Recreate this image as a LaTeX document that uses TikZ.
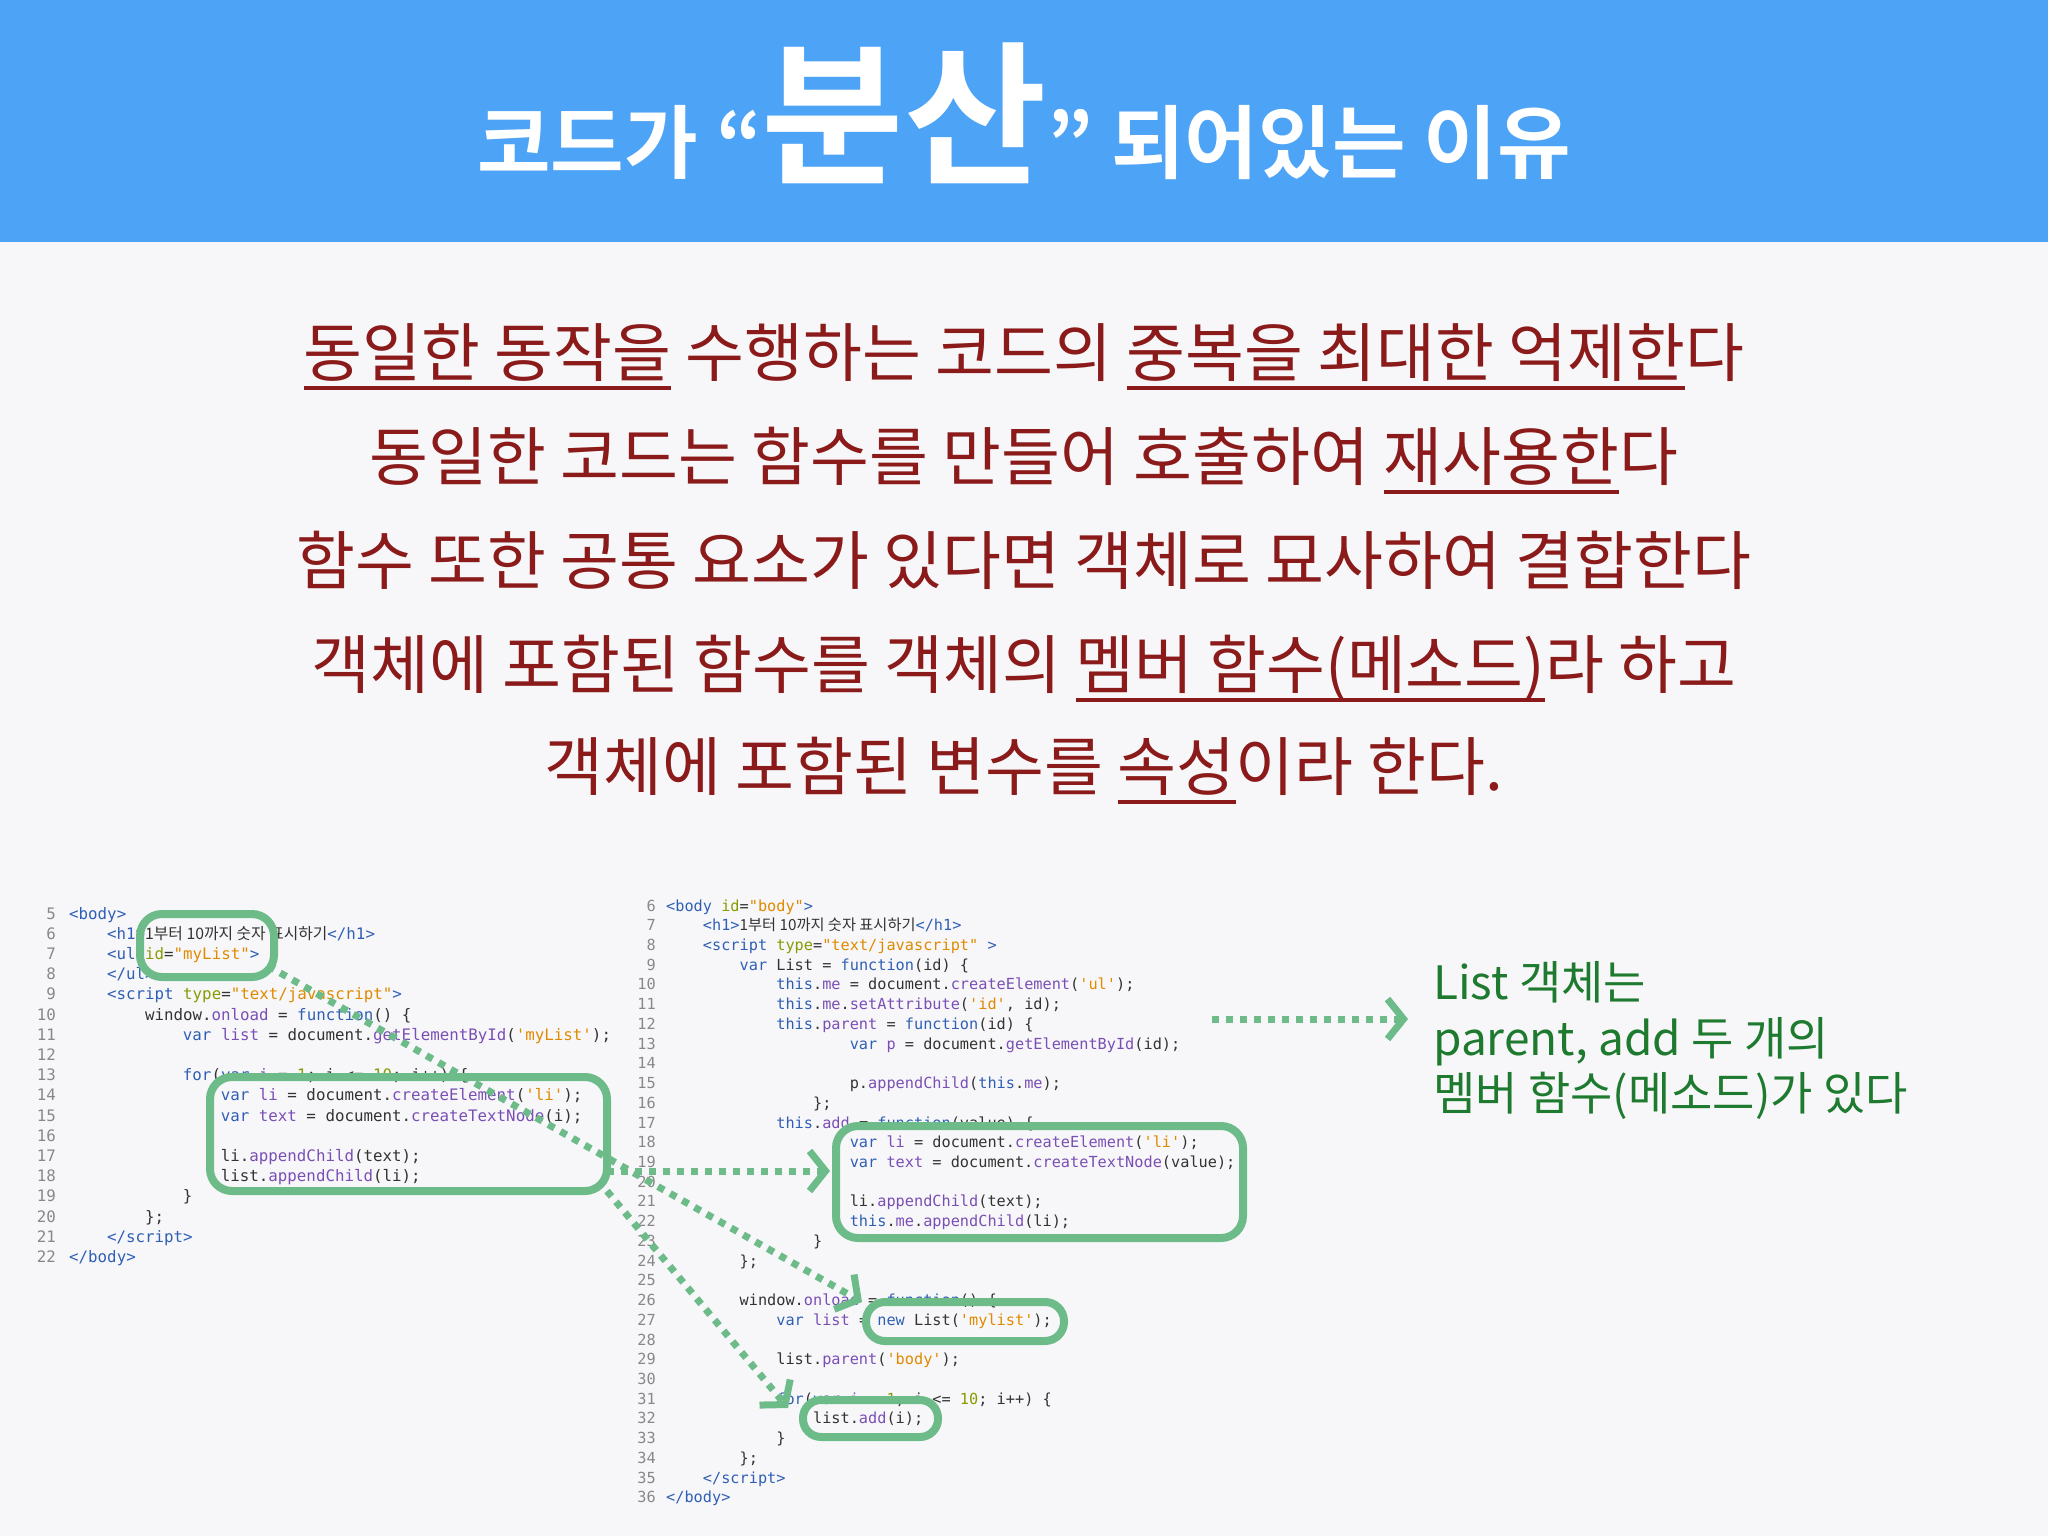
\documentclass[tikz,border=0pt]{standalone}
\usepackage{fontspec}
\usetikzlibrary{arrows.meta}
\setmainfont{Noto Sans CJK KR}
\newfontfamily\krb{Noto Sans CJK KR Bold}
\newfontfamily\kr{Noto Sans CJK KR}
\setmonofont{DejaVu Sans Mono}
\definecolor{hdr}{HTML}{4DA3F5}
\definecolor{bg}{HTML}{F7F7F9}
\definecolor{dred}{HTML}{8B1A1A}
\definecolor{gbox}{HTML}{6EBB8A}
\definecolor{gtxt}{HTML}{1E7A2E}
\definecolor{ckw}{HTML}{2F5FB5}
\definecolor{cfn}{HTML}{7A4FB5}
\definecolor{cst}{HTML}{E08A00}
\definecolor{cat}{HTML}{8A9A00}
\definecolor{ctx}{HTML}{333333}
\definecolor{cnum}{HTML}{888888}
\newcommand\kw[1]{{\color{ckw}#1}}
\newcommand\fn[1]{{\color{cfn}#1}}
\newcommand\st[1]{{\color{cst}#1}}
\newcommand\at[1]{{\color{cat}#1}}
\newcommand\hk[1]{{\kr #1}}
\newcommand\ulx[1]{\setbox0\hbox{#1}\rlap{\rule[-0.22em]{\wd0}{0.065em}}\box0\relax}
\tikzset{
  redline/.style={text=dred,font=\kr\fontsize{64}{70}\selectfont,anchor=base,inner sep=0},
  codeL/.style={anchor=base west,inner sep=0,text=ctx,font=\ttfamily\fontsize{15.8}{18}\selectfont},
  codeR/.style={anchor=base west,inner sep=0,text=ctx,font=\ttfamily\fontsize{15.25}{18}\selectfont},
  numL/.style={anchor=base east,inner sep=0,text=cnum,font=\ttfamily\fontsize{15.8}{18}\selectfont},
  numR/.style={anchor=base east,inner sep=0,text=cnum,font=\ttfamily\fontsize{15.25}{18}\selectfont},
  gb/.style={draw=gbox,line width=8pt,rounded corners=#1},
  gb/.default=22pt,
  darr/.style={draw=gbox,line width=7pt,dash pattern=on 7pt off 7pt,-{Straight Barb[length=16pt,width=40pt,line width=7pt]}},
  side/.style={anchor=base west,inner sep=0,text=gtxt,font=\kr\fontsize{46}{50}\selectfont}
}
\begin{document}
\begin{tikzpicture}[x=1pt,y=-1pt]
\useasboundingbox (0,0) rectangle (2048,1536);
\fill[bg] (0,0) rectangle (2048,1536);
\fill[hdr] (0,0) rectangle (2048,242);
\node[anchor=base,inner sep=0,text=white] (title) at (1024,172)
  {\krb\fontsize{80}{80}\selectfont 코드가 “{\fontsize{155}{155}\selectfont 분산}” 되어있는 이유};

\node[redline] (l1) at (1024,376) {\ulx{동일한 동작을} 수행하는 코드의 \ulx{중복을 최대한 억제한}다};
\node[redline] (l2) at (1024,480) {동일한 코드는 함수를 만들어 호출하여 \ulx{재사용한}다};
\node[redline] (l3) at (1024,584) {함수 또한 공통 요소가 있다면 객체로 묘사하여 결합한다};
\node[redline] (l4) at (1024,688) {객체에 포함된 함수를 객체의 \ulx{멤버 함수(메소드)}라 하고};
\node[redline] (l5) at (1024,790) {객체에 포함된 변수를 \ulx{속성}이라 한다.};

% left code
\foreach \n/\i/\t in {
 5/0/{\kw{<body>}},
 6/4/{\kw{<h1>}\hk{1부터 10까지 숫자 표시하기}\kw{</h1>}},
 7/4/{\kw{<ul} \at{id}=\st{"myList"}\kw{>}},
 8/4/{\kw{</ul>}},
 9/4/{\kw{<script} \at{type}=\st{"text/javascript"}\kw{>}},
 10/8/{window.\fn{onload} = \kw{function}() \{},
 11/12/{\kw{var} \fn{list} = document.\fn{getElementById}(\st{'myList'});},
 12/0/{},
 13/12/{\kw{for}(\kw{var} \fn{i} = \at{1}; i <= \at{10}; i++) \{},
 14/16/{\kw{var} \fn{li} = document.\fn{createElement}(\st{'li'});},
 15/16/{\kw{var} \fn{text} = document.\fn{createTextNode}(i);},
 16/0/{},
 17/16/{li.\fn{appendChild}(text);},
 18/16/{list.\fn{appendChild}(li);},
 19/12/{\}},
 20/8/{\};},
 21/4/{\kw{</script>}},
 22/0/{\kw{</body>}}}{
 \node[numL] (nl\n) at (56,{919+(\n-5)*20.2}) {\n};
 \node[codeL] (cl\n) at ({69+\i*9.48},{919+(\n-5)*20.2}) {\t};
}
% right code
\foreach \n/\i/\t in {
 6/0/{\kw{<body} \at{id}=\st{"body"}\kw{>}},
 7/4/{\kw{<h1>}\hk{1부터 10까지 숫자 표시하기}\kw{</h1>}},
 8/4/{\kw{<script} \at{type}=\st{"text/javascript"} \kw{>}},
 9/8/{\kw{var} List = \kw{function}(id) \{},
 10/12/{\kw{this}.\fn{me} = document.\fn{createElement}(\st{'ul'});},
 11/12/{\kw{this}.\fn{me}.\fn{setAttribute}(\st{'id'}, id);},
 12/12/{\kw{this}.\fn{parent} = \kw{function}(id) \{},
 13/20/{\kw{var} \fn{p} = document.\fn{getElementById}(id);},
 14/0/{},
 15/20/{p.\fn{appendChild}(\kw{this}.\fn{me});},
 16/16/{\};},
 17/12/{\kw{this}.\fn{add} = \kw{function}(value) \{},
 18/20/{\kw{var} \fn{li} = document.\fn{createElement}(\st{'li'});},
 19/20/{\kw{var} \fn{text} = document.\fn{createTextNode}(value);},
 20/0/{},
 21/20/{li.\fn{appendChild}(text);},
 22/20/{\kw{this}.\fn{me}.\fn{appendChild}(li);},
 23/16/{\}},
 24/8/{\};},
 25/0/{},
 26/8/{window.\fn{onload} = \kw{function}() \{},
 27/12/{\kw{var} \fn{list} = \kw{new} List(\st{'mylist'});},
 28/0/{},
 29/12/{list.\fn{parent}(\st{'body'});},
 30/0/{},
 31/12/{\kw{for}(\kw{var} \fn{i} = \at{1}; i <= \at{10}; i++) \{},
 32/16/{list.\fn{add}(i);},
 33/12/{\}},
 34/8/{\};},
 35/4/{\kw{</script>}},
 36/0/{\kw{</body>}}}{
 \node[numR] (nr\n) at (656,{911+(\n-6)*19.73}) {\n};
 \node[codeR] (cr\n) at ({666+\i*9.18},{911+(\n-6)*19.73}) {\t};
}

% boxes
\draw[gb] (140,914) rectangle (274,977);
\draw[gb] (210,1077) rectangle (607,1191);
\draw[gb] (836,1126) rectangle (1243,1238);
\draw[gb=19pt] (866,1302) rectangle (1064,1341);
\draw[gb=18pt] (803,1400) rectangle (938,1437);
\coordinate (a1s) at (268,966);  \coordinate (a1e) at (862,1302);
\coordinate (a2s) at (607,1191); \coordinate (a2e) at (788,1408);
\coordinate (a3s) at (607,1171); \coordinate (a3e) at (830,1171);
\coordinate (a4s) at (1212,1019); \coordinate (a4e) at (1408,1019);
\draw[darr] (a1s) -- (a1e);
\draw[darr] (a2s) -- (a2e);
\draw[darr] (a3s) -- (a3e);
\draw[darr] (a4s) -- (a4e);

\node[side] (s1) at (1433,999) {List 객체는};
\node[side] (s2) at (1433,1055) {parent, add 두 개의};
\node[side] (s3) at (1433,1110) {멤버 함수(메소드)가 있다};
\end{tikzpicture}
\end{document}
